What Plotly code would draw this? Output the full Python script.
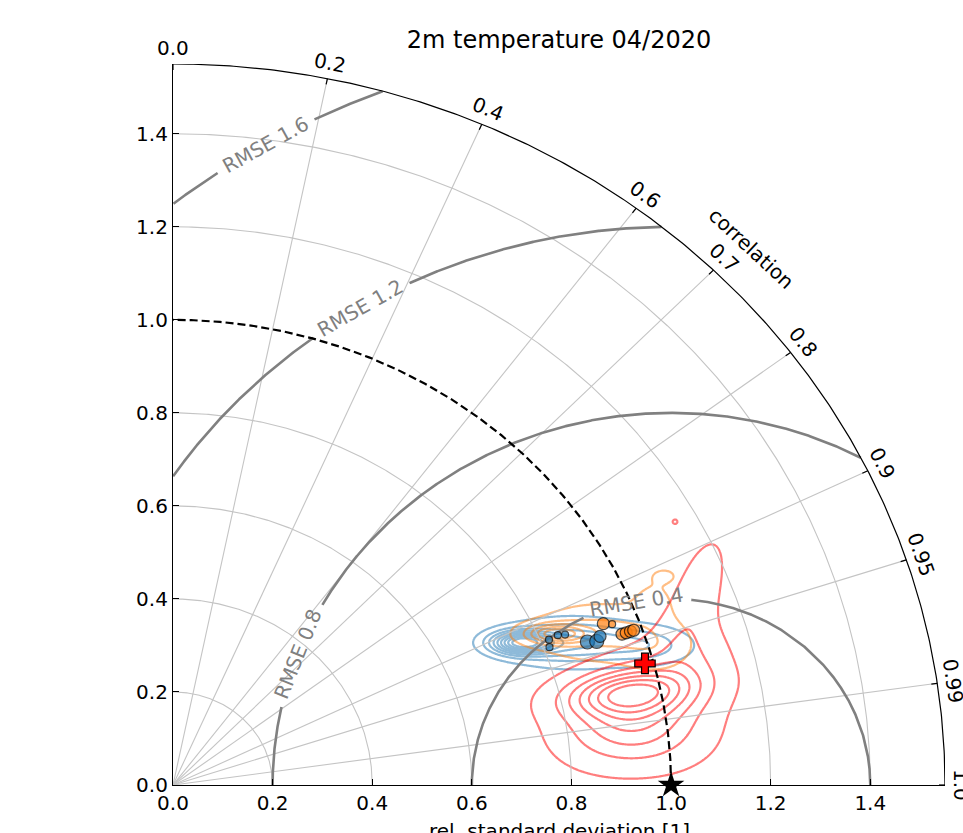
import numpy as np
import plotly.graph_objects as go

# ---------------- data ----------------
title_text = "2m temperature 04/2020"
x_title = "rel. standard deviation [1]"
corr_title = "correlation"
std_max = 1.55
std_ticks = [0.0, 0.2, 0.4, 0.6, 0.8, 1.0, 1.2, 1.4]
std_tick_text = ["0.0", "0.2", "0.4", "0.6", "0.8", "1.0", "1.2", "1.4"]
std_grid = [0.2, 0.4, 0.6, 0.8, 1.2, 1.4]
ref_std_circle = 1.0
corr_ticks = [0.0, 0.2, 0.4, 0.6, 0.7, 0.8, 0.9, 0.95, 0.99, 1.0]
corr_tick_text = ["0.0", "0.2", "0.4", "0.6", "0.7", "0.8", "0.9", "0.95", "0.99", "1.0"]
corr_grid = [0.2, 0.4, 0.6, 0.7, 0.8, 0.9, 0.95, 0.99]
rmse_levels = [0.4, 0.8, 1.2, 1.6]
rmse_label_text = ["RMSE 0.4", "RMSE 0.8", "RMSE 1.2", "RMSE 1.6"]
rmse_label_x = [0.930, 0.251, 0.376, 0.185]

# model points (rel. std, correlation)
blue_std = [0.817, 0.812, 0.837, 0.851, 0.887, 0.905, 0.915]
blue_corr = [0.924, 0.931, 0.923, 0.925, 0.938, 0.940, 0.937]
blue_size = [7, 7, 7, 7, 14, 14, 12]
orange_std = [0.931, 0.947, 0.958, 0.967, 0.976, 0.983]
orange_corr = [0.928, 0.931, 0.941, 0.941, 0.941, 0.941]
orange_size = [12, 7, 12, 12, 12, 12]
red_std = [0.983]
red_corr = [0.964]
obs_std = [1.0]
obs_corr = [1.0]

# density (KDE-like) components in the x = std*corr, y = std*sqrt(1-corr^2) plane
blue_kde_x = [0.700, 0.800, 0.950]
blue_kde_y = [0.306, 0.306, 0.300]
blue_kde_sx = [0.040, 0.080, 0.060]
blue_kde_sy = [0.016, 0.030, 0.026]
blue_kde_rho = [0.0, 0.0, 0.0]
blue_kde_w = [1.0, 0.45, 0.25]

orange_kde_x = [0.770, 0.860, 0.970, 0.965, 0.987]
orange_kde_y = [0.325, 0.328, 0.295, 0.395, 0.450]
orange_kde_sx = [0.040, 0.080, 0.050, 0.030, 0.021]
orange_kde_sy = [0.014, 0.036, 0.035, 0.032, 0.013]
orange_kde_rho = [0.0, 0.0, 0.0, 0.0, 0.0]
orange_kde_w = [1.0, 0.40, 0.20, 0.14, 0.12]

red_kde_x = [0.912, 0.930, 0.955, 1.050, 1.035, 1.008]
red_kde_y = [0.198, 0.170, 0.100, 0.400, 0.280, 0.566]
red_kde_sx = [0.080, 0.088, 0.085, 0.040, 0.050, 0.005]
red_kde_sy = [0.031, 0.065, 0.050, 0.090, 0.060, 0.005]
red_kde_rho = [0.25, 0.30, 0.0, 0.6, 0.0, 0.0]
red_kde_w = [0.60, 0.45, 0.15, 0.12, 0.12, 0.08]

# ---------------- layout geometry ----------------
W, H = 963, 833
ML, MR, MT, MB = 173, 18, 64, 48
PW, PH = W - ML - MR, H - MT - MB
sx_px = PW / std_max
sy_px = PH / std_max
FONT = "DejaVu Sans"


def to_xy(std, corr):
    std = np.asarray(std, float)
    corr = np.asarray(corr, float)
    return std * corr, std * np.sqrt(np.clip(1 - corr ** 2, 0, None))


def density(gx, gy, cx, cy, sx, sy, rho, w):
    X, Y = np.meshgrid(gx, gy)
    Z = np.zeros_like(X)
    for a, b, s1, s2, r, ww in zip(cx, cy, sx, sy, rho, w):
        u = (X - a) / s1
        v = (Y - b) / s2
        q = (u * u - 2 * r * u * v + v * v) / (1 - r * r)
        Z += ww * np.exp(-0.5 * q)
    return Z / Z.max()


fig = go.Figure()

# std grid arcs
th = np.linspace(0, np.pi / 2, 300)
gx, gy = [], []
for r in std_grid:
    gx += list(r * np.cos(th)) + [None]
    gy += list(r * np.sin(th)) + [None]
# correlation radial grid
for c in corr_grid:
    t = np.arccos(c)
    gx += [0, std_max * np.cos(t), None]
    gy += [0, std_max * np.sin(t), None]
fig.add_trace(go.Scatter(x=gx, y=gy, mode="lines", line=dict(color="#c4c4c4", width=1.1),
                         hoverinfo="skip"))

# RMSE circles with gaps for labels
phi = np.linspace(0, np.pi, 4000)
for R, lx in zip(rmse_levels, rmse_label_x):
    ly = np.sqrt(R ** 2 - (lx - 1) ** 2)
    xs = 1 + R * np.cos(phi)
    ys = R * np.sin(phi)
    inside = (xs >= 0) & (ys >= 0) & (np.hypot(xs, ys) <= std_max)
    dpx = np.hypot((xs - lx) * sx_px, (ys - ly) * sy_px)
    keep = inside & (dpx > 55)
    px_, py_ = [], []
    for k in range(len(phi)):
        if keep[k]:
            px_.append(xs[k]); py_.append(ys[k])
        elif px_ and px_[-1] is not None:
            px_.append(None); py_.append(None)
    fig.add_trace(go.Scatter(x=px_, y=py_, mode="lines", line=dict(color="#808080", width=2.6),
                             hoverinfo="skip"))

# reference std circle (dashed)
fig.add_trace(go.Scatter(x=ref_std_circle * np.cos(th), y=ref_std_circle * np.sin(th), mode="lines",
                         line=dict(color="black", width=2.2, dash="8px,4px"), hoverinfo="skip"))

# outer arc and correlation ticks
fig.add_trace(go.Scatter(x=std_max * np.cos(th), y=std_max * np.sin(th), mode="lines",
                         line=dict(color="black", width=1.2), hoverinfo="skip"))
tx, ty = [], []
for c in corr_ticks:
    t = np.arccos(c)
    dr = 6 / np.hypot(sx_px * np.cos(t), sy_px * np.sin(t))
    tx += [std_max * np.cos(t), (std_max - dr) * np.cos(t), None]
    ty += [std_max * np.sin(t), (std_max - dr) * np.sin(t), None]
fig.add_trace(go.Scatter(x=tx, y=ty, mode="lines", line=dict(color="black", width=1.2),
                         hoverinfo="skip"))

# density contours
kx = np.linspace(0.45, 1.3, 320)
ky = np.linspace(0.0, 0.7, 280)
groups = [
    (blue_kde_x, blue_kde_y, blue_kde_sx, blue_kde_sy, blue_kde_rho, blue_kde_w, "#1f77b4", 0.5, (0.06, 0.86, 0.1)),
    (orange_kde_x, orange_kde_y, orange_kde_sx, orange_kde_sy, orange_kde_rho, orange_kde_w, "#ff7f0e", 0.5, (0.08, 0.80, 0.18)),
    (red_kde_x, red_kde_y, red_kde_sx, red_kde_sy, red_kde_rho, red_kde_w, "#ff0000", 0.5, (0.05, 0.85, 0.133)),
]
for cx, cy, s1, s2, rr, ww, col, op, (a, b, s) in groups:
    Z = density(kx, ky, cx, cy, s1, s2, rr, ww)
    fig.add_trace(go.Contour(x=kx, y=ky, z=Z, showscale=False, opacity=op,
                             colorscale=[[0, col], [1, col]],
                             contours=dict(coloring="lines", start=a, end=b, size=s),
                             line=dict(width=2.2), hoverinfo="skip"))

# markers
bx, by = to_xy(blue_std, blue_corr)
fig.add_trace(go.Scatter(x=bx, y=by, mode="markers",
                         marker=dict(color="#1f77b4", size=blue_size, line=dict(color="black", width=1.2))))
ox, oy = to_xy(orange_std, orange_corr)
fig.add_trace(go.Scatter(x=ox, y=oy, mode="markers",
                         marker=dict(color="#ff7f0e", size=orange_size, line=dict(color="black", width=1.2))))
rx, ry = to_xy(red_std, red_corr)
fig.add_trace(go.Scatter(x=rx, y=ry, mode="markers",
                         marker=dict(color="red", size=17, symbol="cross", line=dict(color="black", width=1.2))))
sx_, sy_ = to_xy(obs_std, obs_corr)
fig.add_trace(go.Scatter(x=sx_, y=sy_, mode="markers", cliponaxis=False,
                         marker=dict(color="black", size=20, symbol="star")))

annotations = []
# correlation tick labels
for c, txt in zip(corr_ticks, corr_tick_text):
    t = np.arccos(c)
    A, B = PW, PH
    nx, ny = B * np.cos(t), A * np.sin(t)
    nn = np.hypot(nx, ny)
    nx, ny = nx / nn, ny / nn
    ang = np.degrees(np.arctan2(B * np.cos(t), A * np.sin(t)))
    pad = 16
    annotations.append(dict(x=np.cos(t), y=np.sin(t), xref="paper", yref="paper", text=txt,
                            showarrow=False, textangle=ang, xshift=pad * nx, yshift=pad * ny,
                            font=dict(family=FONT, size=20, color="black"),
                            xanchor="center", yanchor="middle"))
# correlation title
annotations.append(dict(x=1.1606 / std_max, y=1.1548 / std_max, xref="paper", yref="paper",
                        text=corr_title, showarrow=False, textangle=43,
                        xanchor="center", yanchor="middle",
                        font=dict(family=FONT, size=20, color="black")))
# RMSE labels
for R, lx, txt in zip(rmse_levels, rmse_label_x, rmse_label_text):
    ly = np.sqrt(R ** 2 - (lx - 1) ** 2)
    cphi, sphi = (lx - 1) / R, ly / R
    ang = -np.degrees(np.arctan2(-cphi * sy_px, sphi * sx_px))
    annotations.append(dict(x=lx, y=ly, xref="x", yref="y", text=txt, showarrow=False,
                            xanchor="center", yanchor="middle",
                            textangle=ang, font=dict(family=FONT, size=20, color="#808080")))
# x-axis title
annotations.append(dict(x=0.5, y=-46 / PH, xref="paper", yref="paper",
                        text=x_title, showarrow=False, xanchor="center", yanchor="middle",
                        font=dict(family=FONT, size=20, color="black")))

axis_common = dict(range=[0, std_max], showgrid=False, zeroline=False, showline=True,
                   linecolor="black", linewidth=1.2, ticks="inside", ticklen=6, tickwidth=1.2,
                   tickcolor="black", tickvals=std_ticks, ticktext=std_tick_text,
                   tickfont=dict(family=FONT, size=20, color="black"), fixedrange=True)
fig.update_layout(
    width=W, height=H, margin=dict(l=ML, r=MR, t=MT, b=MB, autoexpand=False),
    plot_bgcolor="white", paper_bgcolor="white", showlegend=False,
    xaxis=axis_common, yaxis=axis_common,
    title=dict(text=title_text, x=(ML + PW / 2) / W, xanchor="center", y=1 - 40 / H, yanchor="middle",
               yref="container", font=dict(family=FONT, size=24, color="black")),
    annotations=annotations,
)
fig.write_html("out.html")
